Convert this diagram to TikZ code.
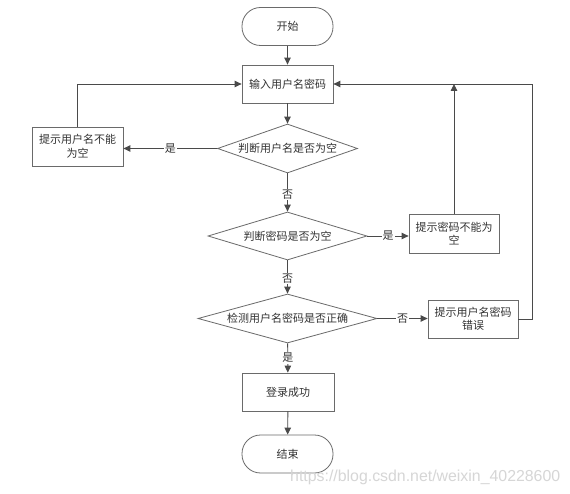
\documentclass[tikz,border=0pt]{standalone}
\usepackage{fontspec}
\setmainfont{Noto Sans CJK SC}
\newfontfamily\wmfont{Liberation Sans}
\usetikzlibrary{shapes.geometric,arrows.meta,calc}
\definecolor{linecol}{HTML}{4A4A4A}
\definecolor{boxcol}{HTML}{6A6A6A}
\definecolor{txtcol}{HTML}{333333}
\definecolor{wmcol}{HTML}{D6D6D6}
\tikzset{
  base/.style={draw=boxcol, line width=0.8pt, text=txtcol, font=\fontsize{11}{13.5}\selectfont, inner sep=0pt, align=center},
  term/.style={base, rectangle, rounded corners=18.5pt, minimum width=91pt, minimum height=38pt},
  proc/.style={base, rectangle, minimum width=91pt, minimum height=38pt},
  dec/.style={base, diamond, aspect=1},
  conn/.style={draw=linecol, line width=0.9pt, -{Triangle[length=7pt,width=6.5pt]}},
  lbl/.style={fill=white, inner sep=1pt, text=txtcol, font=\fontsize{11}{13.5}\selectfont},
}
\begin{document}
\begin{tikzpicture}[x=1pt,y=-1pt]
\useasboundingbox[fill=white] (0,0) rectangle (570,494);

\node[term] (start) at (287.5,26.5) {开始};
\node[proc] (input) at (287.5,84) {输入用户名密码};
\node[dec, minimum width=140pt, minimum height=49pt] (d1) at (287.5,148.5) {\makebox[0pt]{判断用户名是否为空}};
\node[proc, minimum height=39pt] (uempty) at (77.5,146.5) {提示用户名不能\\为空};
\node[dec, minimum width=159pt, minimum height=48pt] (d2) at (287.5,236) {\makebox[0pt]{判断密码是否为空}};
\node[proc, minimum width=90pt, minimum height=39pt] (pempty) at (454,233.5) {提示密码不能为\\空};
\node[dec, minimum width=179pt, minimum height=49pt] (d3) at (287.5,318.5) {\makebox[0pt]{检测用户名密码是否正确}};
\node[proc, minimum width=90pt] (err) at (473,319) {提示用户名密码\\错误};
\node[proc, minimum width=92pt] (ok) at (288,392) {登录成功};
\node[term] (end) at (287.5,454) {结束};

\coordinate (rc) at (532,84);

\draw[conn] (start) -- (input);
\draw[conn] (input) -- (d1);
\draw[conn] (d1.west) -- node[lbl, pos=0.5] {是} (d1.west -| uempty.east);
\draw[conn] (uempty.north) |- (input.west);
\draw[conn] (d1) -- node[lbl, pos=0.55] {否} (d2);
\draw[conn] (d2.east) -- node[lbl] {是} (d2.east -| pempty.west);
\draw[conn] (pempty.north) -- (pempty.north |- rc);
\draw[conn] (d2) -- node[lbl, pos=0.55] {否} (d3);
\draw[conn] (d3.east) -- node[lbl] {否} (d3.east -| err.west);
\draw[conn] (err.east) -| (rc) -- (input.east);
\draw[conn] (d3) -- node[lbl] {是} (ok);
\draw[conn] (ok) -- (end);

\node[anchor=west, inner sep=0pt, text=wmcol] (wm) at (290,477) {\resizebox{270pt}{!}{\wmfont https://blog.csdn.net/weixin\_40228600}};
\end{tikzpicture}
\end{document}
